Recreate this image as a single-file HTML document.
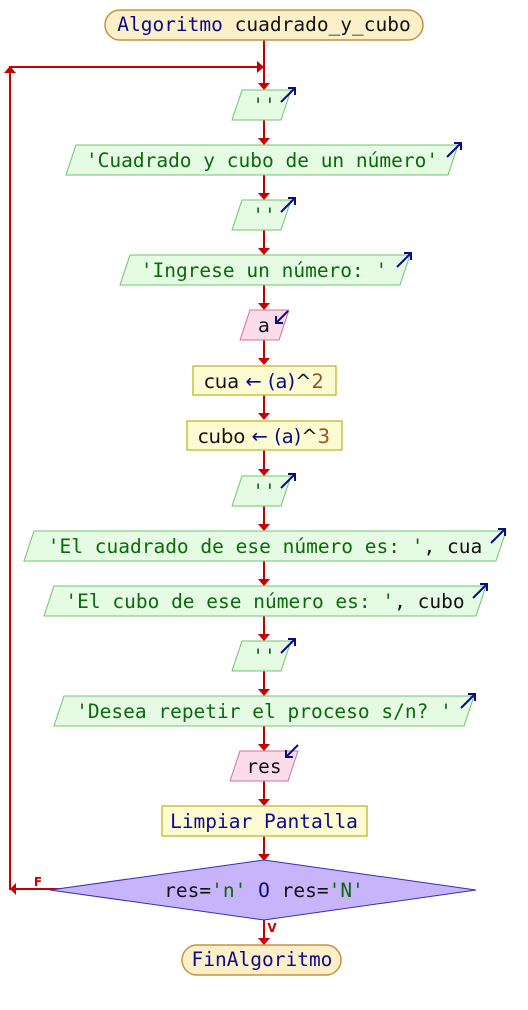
<!DOCTYPE html>
<html><head><meta charset="utf-8"><style>
html,body{margin:0;padding:0;background:#fff;}
svg{display:block}
.m{font-family:"DejaVu Sans Mono","Liberation Mono",monospace;font-size:19.5px}
.s{font-family:"DejaVu Sans","Liberation Sans",sans-serif;font-size:19.5px}
.io{fill:#e6fbe3;stroke:#6cc56c;stroke-width:1}
.in{fill:#fbdde9;stroke:#d070a0;stroke-width:1}
.pr{fill:#fdfbd2;stroke:#c8c040;stroke-width:1.5}
.ln{stroke:#c80000;stroke-width:2;fill:none}
.ah{fill:#c80000}
.ic{stroke:#0b0b8a;stroke-width:2;fill:none}
</style></head><body>
<svg width="528" height="1010" viewBox="0 0 528 1010" xmlns="http://www.w3.org/2000/svg">
<!-- lines -->
<g class="ln">
<line x1="264" y1="40" x2="264" y2="88"/>
<polyline points="264,889 10,889 10,67 262,67"/>
<line x1="264" y1="120" x2="264" y2="143"/>
<line x1="264" y1="175" x2="264" y2="198"/>
<line x1="264" y1="230" x2="264" y2="253"/>
<line x1="264" y1="285" x2="264" y2="308"/>
<line x1="264" y1="340" x2="264" y2="363"/>
<line x1="264" y1="395" x2="264" y2="418"/>
<line x1="264" y1="450" x2="264" y2="474"/>
<line x1="264" y1="506" x2="264" y2="529"/>
<line x1="264" y1="561" x2="264" y2="584"/>
<line x1="264" y1="616" x2="264" y2="639"/>
<line x1="264" y1="671" x2="264" y2="694"/>
<line x1="264" y1="726" x2="264" y2="749"/>
<line x1="264" y1="781" x2="264" y2="804"/>
<line x1="264" y1="836" x2="264" y2="859"/>
<line x1="264" y1="920" x2="264" y2="943"/>
</g>
<g class="ah">
<polygon points="258,83 270,83 264,90"/>
<polygon points="258,138 270,138 264,145"/>
<polygon points="258,193 270,193 264,200"/>
<polygon points="258,248 270,248 264,255"/>
<polygon points="258,303 270,303 264,310"/>
<polygon points="258,358 270,358 264,365"/>
<polygon points="258,413 270,413 264,420"/>
<polygon points="258,469 270,469 264,476"/>
<polygon points="258,524 270,524 264,531"/>
<polygon points="258,579 270,579 264,586"/>
<polygon points="258,634 270,634 264,641"/>
<polygon points="258,689 270,689 264,696"/>
<polygon points="258,744 270,744 264,751"/>
<polygon points="258,799 270,799 264,806"/>
<polygon points="258,854 270,854 264,861"/>
<polygon points="258,938 270,938 264,945"/>
<polygon points="257,61 264,67 257,73"/>
<polygon points="4,73 10,66 16,73"/>
<polygon points="16,883 10,889 16,895"/>
</g>
<!-- start -->
<rect x="105" y="10" width="318" height="30" rx="15" fill="#fdf0c8" stroke="#c89040" stroke-width="1.5"/>
<text x="264" y="31" text-anchor="middle" class="m" fill="#0b0b8a">Algoritmo <tspan fill="#111">cuadrado_y_cubo</tspan></text>
<!-- outputs -->
<polygon class="io" points="242,90 291,90 281,120 232,120"/>
<text x="264" y="112" text-anchor="middle" class="m" fill="#0a6a0a">''</text>
<path class="ic" d="M281,102 L295,88 M288,88 L295,88 L295,95"/>

<polygon class="io" points="76,145 458,145 448,175 66,175"/>
<text x="262" y="167" text-anchor="middle" class="m" fill="#0a6a0a">'Cuadrado y cubo de un número'</text>
<path class="ic" d="M447,157 L461,143 M454,143 L461,143 L461,150"/>

<polygon class="io" points="242,200 291,200 281,230 232,230"/>
<text x="264" y="222" text-anchor="middle" class="m" fill="#0a6a0a">''</text>
<path class="ic" d="M281,212 L295,198 M288,198 L295,198 L295,205"/>

<polygon class="io" points="130,255 410,255 400,285 120,285"/>
<text x="264" y="277" text-anchor="middle" class="m" fill="#0a6a0a">'Ingrese un número: '</text>
<path class="ic" d="M397,267 L411,253 M404,253 L411,253 L411,260"/>

<polygon class="in" points="250,310 289,310 279,340 240,340"/>
<text x="264" y="332" text-anchor="middle" class="s" fill="#111">a</text>
<path class="ic" d="M288,311 L276,323 M276,316 L276,323 L283,323"/>

<rect class="pr" x="193" y="366" width="143" height="29"/>
<text x="264" y="388" text-anchor="middle" class="s" fill="#111">cua <tspan fill="#0b0b8a">←</tspan> <tspan fill="#0b0b8a">(a)</tspan>^<tspan fill="#a05020">2</tspan></text>
<rect class="pr" x="187" y="421" width="155" height="29"/>
<text x="264" y="443" text-anchor="middle" class="s" fill="#111">cubo <tspan fill="#0b0b8a">←</tspan> <tspan fill="#0b0b8a">(a)</tspan>^<tspan fill="#a05020">3</tspan></text>

<polygon class="io" points="242,476 291,476 281,506 232,506"/>
<text x="264" y="498" text-anchor="middle" class="m" fill="#0a6a0a">''</text>
<path class="ic" d="M281,488 L295,474 M288,474 L295,474 L295,481"/>

<polygon class="io" points="34,531 506,531 496,561 24,561"/>
<text x="265" y="553" text-anchor="middle" class="m" fill="#0a6a0a">'El cuadrado de ese número es: '<tspan fill="#111">, cua</tspan></text>
<path class="ic" d="M491,543 L505,529 M498,529 L505,529 L505,536"/>

<polygon class="io" points="54,586 486,586 476,616 44,616"/>
<text x="265" y="608" text-anchor="middle" class="m" fill="#0a6a0a">'El cubo de ese número es: '<tspan fill="#111">, cubo</tspan></text>
<path class="ic" d="M473,598 L487,584 M480,584 L487,584 L487,591"/>

<polygon class="io" points="242,641 291,641 281,671 232,671"/>
<text x="264" y="663" text-anchor="middle" class="m" fill="#0a6a0a">''</text>
<path class="ic" d="M281,653 L295,639 M288,639 L295,639 L295,646"/>

<polygon class="io" points="64,696 474,696 464,726 54,726"/>
<text x="264" y="718" text-anchor="middle" class="m" fill="#0a6a0a">'Desea repetir el proceso s/n? '</text>
<path class="ic" d="M461,708 L475,694 M468,694 L475,694 L475,701"/>

<polygon class="in" points="240,751 298,751 288,781 230,781"/>
<text x="264" y="773" text-anchor="middle" class="m" fill="#111">res</text>
<path class="ic" d="M298,745 L286,757 M286,750 L286,757 L293,757"/>

<rect class="pr" x="162" y="806" width="205" height="30"/>
<text x="264" y="828" text-anchor="middle" class="m" fill="#0b0b8a">Limpiar Pantalla</text>

<polygon points="264,860 476,890 264,920 50,890" fill="#c8b4fa" stroke="#3030c0" stroke-width="1"/>
<text x="264" y="897" text-anchor="middle" class="m" fill="#111">res=<tspan fill="#0a6a0a">'n'</tspan> <tspan fill="#0b0b8a">O</tspan> res=<tspan fill="#0a6a0a">'N'</tspan></text>
<text x="38" y="886" text-anchor="middle" font-family="DejaVu Sans,sans-serif" font-size="12" font-weight="bold" fill="#c80000">F</text>
<text x="272" y="932" text-anchor="middle" font-family="DejaVu Sans,sans-serif" font-size="12" font-weight="bold" fill="#c80000">V</text>

<rect x="182" y="945" width="159" height="30" rx="15" fill="#fdf0c8" stroke="#c89040" stroke-width="1.5"/>
<text x="262" y="966" text-anchor="middle" class="m" fill="#0b0b8a">FinAlgoritmo</text>
</svg>
</body></html>
